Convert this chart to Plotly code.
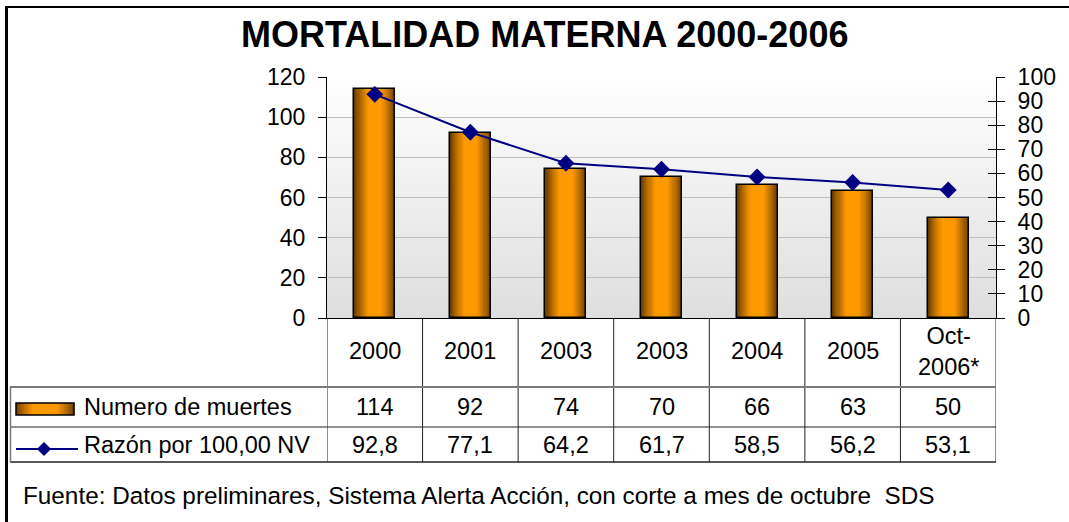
import base64
import plotly.graph_objects as go

# ---------------- data ----------------
categories = ["2000", "2001", "2003", "2003", "2004", "2005", "Oct-2006*"]
muertes = [114, 92, 74, 70, 66, 63, 50]
razon = [92.8, 77.1, 64.2, 61.7, 58.5, 56.2, 53.1]
series_names = ["Numero de muertes", "Razón por 100,00 NV"]
title_text = "MORTALIDAD MATERNA 2000-2006"
footnote = "Fuente: Datos preliminares, Sistema Alerta Acción, con corte a mes de octubre \u00a0SDS"
left_ticks = [0, 20, 40, 60, 80, 100, 120]
right_ticks = [0, 10, 20, 30, 40, 50, 60, 70, 80, 90, 100]

# ---------------- geometry helpers ----------------
W, H = 1069, 522
L, R, T, B = 327, 996, 77, 318          # plot area in pixels
PW, PH = R - L, B - T


def xp(px):
    return (px - L) / PW


def yp(py):
    return (B - py) / PH


FONT = "Liberation Sans, Arial, sans-serif"
DARK = (100, 58, 0)
BRIGHT = (255, 153, 0)


def mix(t):
    c = [round(DARK[i] + (BRIGHT[i] - DARK[i]) * t) for i in range(3)]
    return "rgb(%d,%d,%d)" % tuple(c)


x = list(range(len(categories)))
BAR_W = 0.43

fig = go.Figure()

# gradient bars by overlaying narrower, brighter layers
N = 14
for k in range(N):
    f = 1 - 0.68 * k / (N - 1)
    t = (k / (N - 1)) ** 0.8
    fig.add_trace(go.Bar(
        x=x, y=muertes, width=[BAR_W * f] * len(x),
        marker=dict(color=mix(t), line=dict(width=0)),
        showlegend=False, hoverinfo="skip"))
# outline
fig.add_trace(go.Bar(
    x=x, y=muertes, width=[BAR_W] * len(x),
    marker=dict(color="rgba(0,0,0,0)", line=dict(color="black", width=1.5)),
    showlegend=False, name=series_names[0]))

# line
fig.add_trace(go.Scatter(
    x=x, y=razon, yaxis="y2", mode="lines+markers",
    line=dict(color="#000080", width=2),
    marker=dict(symbol="diamond", size=13, color="#000080"),
    showlegend=False, name=series_names[1]))
# helper (invisible) trace so that the inside-tick axis is drawn
fig.add_trace(go.Scatter(
    x=x, y=razon, yaxis="y3", mode="markers",
    marker=dict(opacity=0), showlegend=False, hoverinfo="skip"))

# ---------------- background gradient ----------------
svg = ("<svg xmlns='http://www.w3.org/2000/svg' width='100' height='100' preserveAspectRatio='none'>"
       "<defs><linearGradient id='g' x1='0' y1='0' x2='0' y2='1'>"
       "<stop offset='0' stop-color='#ffffff'/><stop offset='1' stop-color='#dedede'/>"
       "</linearGradient></defs><rect width='100' height='100' fill='url(#g)'/></svg>")
src = "data:image/svg+xml;base64," + base64.b64encode(svg.encode()).decode()

shapes = []
annotations = []

# table vertical lines
for i in range(len(categories) + 1):
    shapes.append(dict(type="line", xref="x", yref="paper", x0=i - 0.5, x1=i - 0.5,
                       y0=0, y1=yp(462), line=dict(color="#222222", width=1)))
# table horizontal lines
shapes.append(dict(type="line", xref="paper", yref="paper", x0=xp(10), x1=1,
                   y0=yp(387), y1=yp(387), line=dict(color="#7a7a7a", width=2)))
shapes.append(dict(type="line", xref="paper", yref="paper", x0=xp(10), x1=1,
                   y0=yp(427), y1=yp(427), line=dict(color="#222222", width=1)))
shapes.append(dict(type="line", xref="paper", yref="paper", x0=xp(10), x1=1,
                   y0=yp(462), y1=yp(462), line=dict(color="#222222", width=1.5)))
shapes.append(dict(type="line", xref="paper", yref="paper", x0=xp(10.5), x1=xp(10.5),
                   y0=yp(387), y1=yp(462), line=dict(color="#7a7a7a", width=1.5)))

# outer border (left and top)
shapes.append(dict(type="line", xref="paper", yref="paper", x0=xp(6.5), x1=xp(6.5),
                   y0=yp(6), y1=yp(530), line=dict(color="black", width=3)))
shapes.append(dict(type="line", xref="paper", yref="paper", x0=xp(5), x1=xp(1080),
                   y0=yp(7), y1=yp(7), line=dict(color="black", width=2)))

# legend key: gradient bar
ix0, ix1, iy0, iy1 = 16, 74, 403, 415
S = 29
for s in range(S):
    a = ix0 + (ix1 - ix0) * s / S
    b = ix0 + (ix1 - ix0) * (s + 1) / S
    u = (s + 0.5) / S
    d = abs(u - 0.5) * 2
    t = min(1.0, max(0.0, (1 - d) / 0.6)) ** 0.8
    shapes.append(dict(type="rect", xref="paper", yref="paper", x0=xp(a), x1=xp(b) + 0.0005,
                       y0=yp(iy1), y1=yp(iy0), fillcolor=mix(t), line=dict(width=0)))
shapes.append(dict(type="rect", xref="paper", yref="paper", x0=xp(ix0), x1=xp(ix1),
                   y0=yp(iy1), y1=yp(iy0), line=dict(color="black", width=1.5)))
# legend key: line with diamond
shapes.append(dict(type="line", xref="paper", yref="paper", x0=xp(16), x1=xp(78),
                   y0=yp(449), y1=yp(449), line=dict(color="#000080", width=2)))
cx, cy, r = 44, 449, 6.5
path = "M %f %f L %f %f L %f %f L %f %f Z" % (
    xp(cx - r), yp(cy), xp(cx), yp(cy - r), xp(cx + r), yp(cy), xp(cx), yp(cy + r))
shapes.append(dict(type="path", xref="paper", yref="paper", path=path,
                   fillcolor="#000080", line=dict(color="#000080", width=1)))

# table texts
tfont = dict(family=FONT, size=23.5, color="black")
for i, c in enumerate(categories):
    annotations.append(dict(xref="x", yref="paper", x=i, y=yp(351), text=c.replace("-", "-<br>"),
                            showarrow=False, font=tfont, xanchor="center", yanchor="middle"))
    annotations.append(dict(xref="x", yref="paper", x=i, y=yp(407), text=str(muertes[i]),
                            showarrow=False, font=tfont, xanchor="center", yanchor="middle"))
    annotations.append(dict(xref="x", yref="paper", x=i, y=yp(445),
                            text=("%.1f" % razon[i]).replace(".", ","),
                            showarrow=False, font=tfont, xanchor="center", yanchor="middle"))
annotations.append(dict(xref="paper", yref="paper", x=xp(82), y=yp(407), text=series_names[0],
                        showarrow=False, font=tfont, xanchor="left", yanchor="middle"))
annotations.append(dict(xref="paper", yref="paper", x=xp(82), y=yp(445), text=series_names[1],
                        showarrow=False, font=tfont, xanchor="left", yanchor="middle"))
annotations.append(dict(xref="paper", yref="paper", x=xp(21), y=yp(495), text=footnote,
                        showarrow=False, font=dict(family=FONT, size=24.3, color="black"),
                        xanchor="left", yanchor="middle"))
annotations.append(dict(xref="paper", yref="paper", x=xp(544.5), y=yp(35), text="<b>" + title_text + "</b>",
                        showarrow=False, font=dict(family=FONT, size=36, color="black"),
                        xanchor="center", yanchor="middle"))

tickfont = dict(family=FONT, size=23, color="black")
fig.update_layout(
    width=W, height=H,
    margin=dict(l=L, r=W - R, t=T, b=H - B, pad=0),
    paper_bgcolor="white", plot_bgcolor="rgba(0,0,0,0)",
    barmode="overlay", bargap=0,
    showlegend=False,
    images=[dict(source=src, xref="paper", yref="paper", x=0, y=1, sizex=1, sizey=1,
                 sizing="stretch", xanchor="left", yanchor="top", layer="below")],
    xaxis=dict(range=[-0.5, len(categories) - 0.5], showticklabels=False, ticks="",
               showline=True, linecolor="black", linewidth=1, showgrid=False, zeroline=False),
    yaxis=dict(range=[0, 120], tickvals=left_ticks, ticks="outside", ticklen=8, tickcolor="black",
               showline=True, linecolor="black", linewidth=1, gridcolor="#bdbdbd", gridwidth=1,
               zeroline=False, tickfont=tickfont, ticklabelstandoff=8),
    yaxis2=dict(range=[0, 100], tickvals=right_ticks, overlaying="y", side="right", anchor="x",
                ticks="outside", ticklen=8, tickcolor="black", showline=True, linecolor="black",
                linewidth=1, showgrid=False, zeroline=False, tickfont=tickfont, ticklabelstandoff=8),
    yaxis3=dict(range=[0, 100], tickvals=right_ticks, overlaying="y", side="right", anchor="x",
                ticks="inside", ticklen=8, tickcolor="black", showline=False,
                showgrid=False, zeroline=False, showticklabels=False),
    shapes=shapes, annotations=annotations,
)

fig.write_html("out.html", config={"displayModeBar": False},
               post_script="document.body.style.margin='0px';")
